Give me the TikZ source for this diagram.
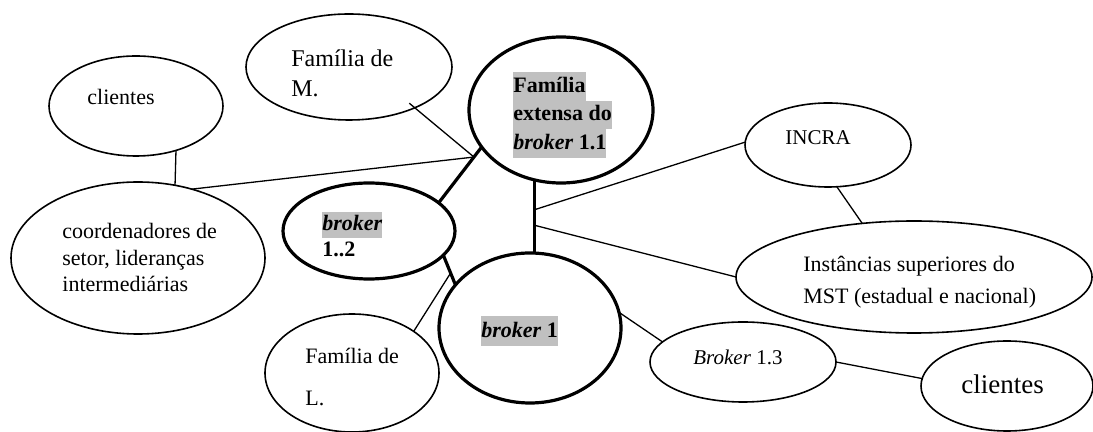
\documentclass[tikz,border=0pt]{standalone}
\usepackage{fontspec}
\setmainfont{Liberation Serif}
\usepackage{tikz}
\usetikzlibrary{positioning}
\usetikzlibrary{shapes.geometric,calc}
\definecolor{hlgray}{RGB}{192,192,192}
\newcommand{\hl}[1]{{\setlength{\fboxsep}{0pt}\colorbox{hlgray}{\strut #1}}}
\tikzstyle{ell_n} = [ellipse, draw=black, line width=0.8pt, inner sep=0pt, outer sep=0pt]
\tikzstyle{ell_b} = [ellipse, draw=black, line width=1.6pt, inner sep=0pt, outer sep=0pt]
\tikzstyle{txt_n} = [inner sep=0pt, anchor=north west, align=left]
\tikzstyle{lnk_n} = [line width=0.65pt]
\tikzstyle{lnk_b} = [line width=1.6pt]

\begin{document}
\begin{tikzpicture}[x=0.5pt,y=-0.5pt]
\useasboundingbox (0,0) rectangle (1093,432);
% ellipses
\node [ell_n, minimum width=87pt, minimum height=50pt] (cliA) at (136,106) {};
\node [ell_n, minimum width=103pt, minimum height=53pt] (famM) at (349,67) {};
\node [ell_b, minimum width=92pt, minimum height=73pt] (ext) at (561,110) {};
\node [ell_n, minimum width=83pt, minimum height=42pt] (incra) at (828,145) {};
\node [ell_n, minimum width=127pt, minimum height=76pt] (coord) at (138,258) {};
\node [ell_b, minimum width=86pt, minimum height=48pt] (bk2) at (369,231) {};
\node [ell_b, minimum width=91pt, minimum height=75pt] (bk1) at (530,328) {};
\node [ell_n, minimum width=87pt, minimum height=59pt] (famL) at (352,373) {};
\node [ell_n, minimum width=178pt, minimum height=56pt] (inst) at (914,277) {};
\node [ell_n, minimum width=93pt, minimum height=40pt] (bk3) at (743,362) {};
\node [ell_n, minimum width=86pt, minimum height=45pt] (cliB) at (1007,386) {};

% texts
\node [txt_n, font=\fontsize{11}{13}\selectfont] (cliAt) at (87,89) {clientes};
\node [txt_n, font=\fontsize{12}{15}\selectfont] (famMt) at (291,49) {Família de\\M.};
\node [txt_n, font=\fontsize{11}{14.25}\selectfont\bfseries] (extt) at (513,72)
    {\hl{Família}\\\hl{extensa do}\\\hl{\textit{broker} 1.1}};
\node [txt_n, font=\fontsize{10.5}{12.6}\selectfont] (incrat) at (785,130) {INCRA};
\node [txt_n, font=\fontsize{11}{13.25}\selectfont] (coordt) at (62,223)
    {coordenadores de\\setor, lideranças\\intermediárias};
\node [txt_n, font=\fontsize{11}{13}\selectfont\bfseries] (bk2t) at (322,212)
    {\hl{\textit{broker}}\\1..2};
\node [txt_n, font=\fontsize{11}{15}\selectfont\bfseries] (bk1t) at (481,316)
    {\hl{\textit{broker} 1}};
\node [txt_n, font=\fontsize{11}{21}\selectfont] (famLt) at (305,348) {Família de\\L.};
\node [txt_n, font=\fontsize{11}{16}\selectfont] (instt) at (803,256)
    {Instâncias superiores do\\MST (estadual e nacional)};
\node [txt_n, font=\fontsize{10.5}{12.6}\selectfont] (bk3t) at (693,350) {\textit{Broker} 1.3};
\node [txt_n, font=\fontsize{13.5}{16}\selectfont] (cliBt) at (961,374) {clientes};

% links
\coordinate (v1) at (ext.-111 |- bk1.north);
\draw [lnk_b] (ext.205) -- (bk2.22);
\draw [lnk_b] (ext.-111) -- (v1);
\draw [lnk_b] (bk2.-18) -- (bk1.150);
\coordinate (j1) at ($(ext.205)!0.18!(bk2.22)$);
\coordinate (j2) at ($(ext.-111)!0.41!(v1)$);
\coordinate (j3) at ($(ext.-111)!0.62!(v1)$);
\coordinate (j4) at ($(bk2.-18)!0.6!(bk1.150)$);
\draw [lnk_n] (cliA.-48) -- (coord.63);
\draw [lnk_n] (coord.52) -- (j1);
\draw [lnk_n] ($(famM.center)!0.9!(famM.-31)$) -- (j1);
\draw [lnk_n] (j2) -- (incra.178);
\draw [lnk_n] (j3) -- (inst.west);
\draw [lnk_n] (incra.-78) -- (inst.134);
\draw [lnk_n] (famL.34) -- (j4);
\draw [lnk_n] (bk1.10) -- (bk3.166);
\draw [lnk_n] (bk3.east) -- (cliB.175);
\end{tikzpicture}
\end{document}
